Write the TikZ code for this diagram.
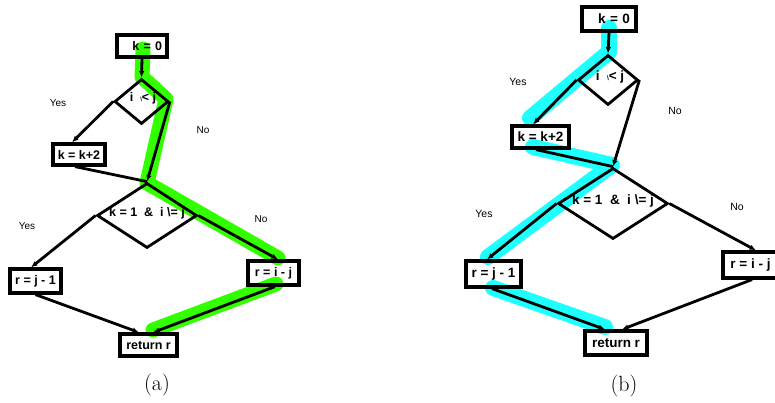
\documentclass[tikz,border=0pt]{standalone}
\usepackage{fontspec}
\newfontfamily\arial{Liberation Sans}
\usetikzlibrary{shapes.geometric,arrows.meta}
\definecolor{hlgreen}{RGB}{50,255,0}
\definecolor{hlcyan}{RGB}{30,255,255}
\tikzset{
  boxa/.style={draw, line width=3.2pt, inner sep=0pt, font=\arial\bfseries\fontsize{12.5}{14}\selectfont},
  boxb/.style={draw, line width=3.2pt, inner sep=0pt, font=\arial\bfseries\fontsize{13.5}{15}\selectfont},
  diam/.style={diamond, draw, line width=2.8pt, inner sep=0pt},
  dtexta/.style={inner sep=0pt, font=\arial\bfseries\fontsize{12.5}{14}\selectfont},
  dtextb/.style={inner sep=0pt, font=\arial\bfseries\fontsize{13.5}{15}\selectfont},
  lbla/.style={inner sep=0pt, font=\arial\fontsize{10}{12}\selectfont},
  lblb/.style={inner sep=0pt, font=\arial\fontsize{10.5}{12}\selectfont},
  conn/.style={line width=2.8pt, -{Latex[length=6.5pt,width=5.5pt]}},
  plain/.style={line width=2.8pt},
  hla/.style={line width=15pt, hlgreen, line cap=round, line join=round},
  hlb/.style={line width=16pt, hlcyan, line cap=round, line join=round},
  capt/.style={inner sep=0pt, font=\fontsize{22}{26}\selectfont}
}
\begin{document}
\begin{tikzpicture}[x=1pt,y=-1pt]
\useasboundingbox (0,0) rectangle (775,402);
% ---------- highlights ----------
\draw[hla] (143,49) -- (142,77) -- (166,99) -- (147,183) -- (278,258);
\draw[hla] (276,284) -- (153,330);
\draw[hlb] (609,28) -- (609,52) -- (530,118);
\draw[hlb] (533,147) -- (612,165) -- (488,257);
\draw[hlb] (493,288) -- (605,327);
% ---------- panel (a) ----------
\node[boxa, minimum width=50pt, minimum height=22pt, text width=40pt, align=right] (a0) at (142,46) {k = 0};
\node[diam, minimum width=54pt, minimum height=45pt] (ad1) at (141.5,101.5) {};
\node[dtexta] (ad1t) at (143,98) {i\ \ {\fontsize{6}{6}\selectfont\textbackslash}< j};
\node[boxa, minimum width=52pt, minimum height=21pt] (ak2) at (79,154.5) {k = k+2};
\node[diam, minimum width=100pt, minimum height=65pt] (ad2) at (147,215.5) {};
\node[dtexta] (ad2t) at (147,213) {k = 1\ \ \&\ \ i \textbackslash= j};
\node[boxa, minimum width=51pt, minimum height=24pt] (aj1) at (35.5,281) {r = j - 1};
\node[boxa, minimum width=51pt, minimum height=24pt] (aij) at (273.5,273) {r = i - j};
\node[boxa, minimum width=57pt, minimum height=22pt] (ar) at (148.5,345) {return r};
\node[lbla] (ay1) at (58,103) {Yes};
\node[lbla] (an1) at (203,130) {No};
\node[lbla] (ay2) at (27,226) {Yes};
\node[lbla] (an2) at (261,219) {No};
\node[capt] (acap) at (157,385.5) {(a)};
\draw[conn] (a0.south) -- (ad1.north);
\draw[conn] (ad1.west) -- ([xshift=-7pt]ak2.north);
\draw[conn] (ad1.east) -- (ad2.north);
\draw[plain] ([xshift=-4pt]ak2.south) -- (ad2.north);
\draw[conn] (ad2.west) -- ([xshift=-4.5pt]aj1.north);
\draw[conn] (ad2.east) -- ([xshift=4.5pt]aij.north);
\draw[conn] (aj1.south) -- ([xshift=-9.5pt]ar.north);
\draw[conn] ([xshift=1.5pt]aij.south) -- ([xshift=4.5pt]ar.north);
% ---------- panel (b) ----------
\node[boxb, minimum width=54pt, minimum height=24pt, text width=42pt, align=right] (b0) at (609,19) {k = 0};
\node[diam, minimum width=60pt, minimum height=50pt] (bd1) at (608,80) {};
\node[dtextb] (bd1t) at (610,77) {i\ \ {\fontsize{6.5}{6.5}\selectfont\textbackslash}< j};
\node[boxb, minimum width=57pt, minimum height=22pt] (bk2) at (540.5,137) {k = k+2};
\node[diam, minimum width=110pt, minimum height=71pt] (bd2) at (613,203.5) {};
\node[dtextb] (bd2t) at (613,201) {k = 1\ \ \&\ \ i \textbackslash= j};
\node[boxb, minimum width=55pt, minimum height=26pt] (bj1) at (493.5,274) {r = j - 1};
\node[boxb, minimum width=55pt, minimum height=26pt] (bij) at (750.5,265) {r = i - j};
\node[boxb, minimum width=62pt, minimum height=24pt] (br) at (616,343) {return r};
\node[lblb] (by1) at (518,82) {Yes};
\node[lblb] (bn1) at (675,111) {No};
\node[lblb] (by2) at (484,214) {Yes};
\node[lblb] (bn2) at (737,207) {No};
\node[capt] (bcap) at (624,386) {(b)};
\draw[conn] (b0.south) -- (bd1.north);
\draw[conn] (bd1.west) -- ([xshift=-7.5pt]bk2.north);
\draw[conn] (bd1.east) -- (bd2.north);
\draw[plain] ([xshift=-4.5pt]bk2.south) -- (bd2.north);
\draw[conn] (bd2.west) -- ([xshift=-6.5pt]bj1.north);
\draw[conn] (bd2.east) -- ([xshift=5.5pt]bij.north);
\draw[conn] ([xshift=-1.5pt]bj1.south) -- ([xshift=-11pt]br.north);
\draw[conn] ([xshift=1.5pt]bij.south) -- ([xshift=6pt]br.north);
\end{tikzpicture}
\end{document}
